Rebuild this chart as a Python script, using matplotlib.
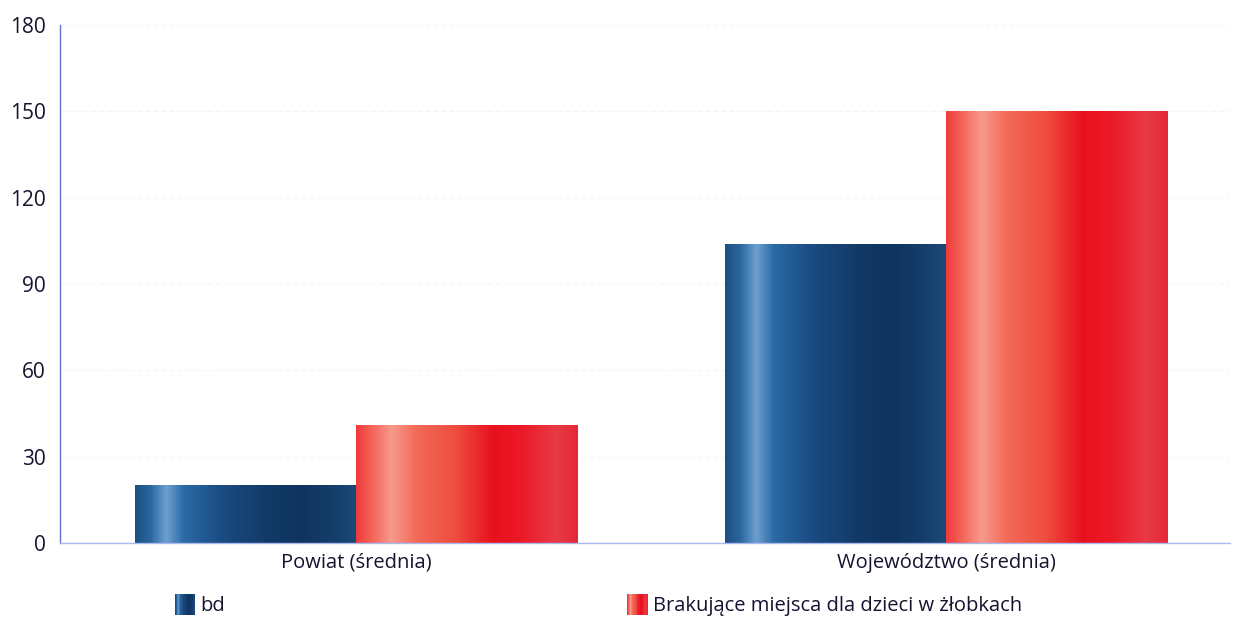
import numpy as np
import matplotlib
matplotlib.use("Agg")
import matplotlib.pyplot as plt
from matplotlib.colors import LinearSegmentedColormap
from matplotlib.legend_handler import HandlerBase
from matplotlib.patches import Rectangle

categories = ["Powiat (średnia)", "Województwo (średnia)"]
series_names = ["bd", "Brakujące miejsca dla dzieci w żłobkach"]
bd_values = [20, 104]
missing_values = [41, 150]
y_ticks = [0, 30, 60, 90, 120, 150, 180]

plt.rcParams["font.family"] = ["Open Sans", "DejaVu Sans"]
text_color = "#141430"

blue_cmap = LinearSegmentedColormap.from_list("blue_tube", [
    (0.0, "#1b4f80"), (0.07, "#2b68a0"), (0.14, "#6e9fd0"), (0.22, "#2a6aa5"),
    (0.4, "#1a4a80"), (0.6, "#123a66"), (0.75, "#0f3360"), (0.9, "#163e6a"),
    (1.0, "#1b4a78")])
red_cmap = LinearSegmentedColormap.from_list("red_tube", [
    (0.0, "#ef3b3b"), (0.08, "#f36a5e"), (0.16, "#f89a8c"), (0.27, "#f26a58"),
    (0.45, "#ee4d40"), (0.62, "#e8101e"), (0.75, "#ec1a28"), (0.9, "#e83a45"),
    (1.0, "#e42838")])
gradient = np.linspace(0, 1, 256).reshape(1, -1)


class GradientHandler(HandlerBase):
    def __init__(self, cmap):
        super().__init__()
        self.cmap = cmap

    def create_artists(self, legend, orig_handle, xdescent, ydescent,
                       width, height, fontsize, trans):
        n = 20
        arts = []
        for i in range(n):
            r = Rectangle((-xdescent + width * i / n, -ydescent), width / n + 0.3, height,
                          facecolor=self.cmap(i / (n - 1)), edgecolor="none",
                          transform=trans)
            arts.append(r)
        return arts


fig = plt.figure(figsize=(12.33, 6.19), dpi=100)
ax = fig.add_axes([0.0487, 0.1228, 0.9489, 0.8368])

x = np.arange(len(categories))
w = 0.375
bars_bd = ax.bar(x - w / 2, bd_values, w, color="none", edgecolor="none", label=series_names[0])
bars_mis = ax.bar(x + w / 2, missing_values, w, color="none", edgecolor="none", label=series_names[1])

for bars, cmap in [(bars_bd, blue_cmap), (bars_mis, red_cmap)]:
    for b in bars:
        x0, y0 = b.get_x(), b.get_y()
        im = ax.imshow(gradient, cmap=cmap, aspect="auto", interpolation="bicubic",
                       extent=[x0, x0 + b.get_width(), y0, y0 + b.get_height()], zorder=2)
        im.set_clip_path(b)

ax.set_xlim(-0.502, 1.481)
ax.set_ylim(0, 180)
ax.set_yticks(y_ticks)
ax.set_xticks(x)
ax.set_xticklabels(categories)
ax.tick_params(axis="y", length=0, pad=10.5, labelsize=15, labelcolor=text_color)
ax.tick_params(axis="x", length=0, pad=7, labelsize=14.5, labelcolor=text_color)
ax.yaxis.grid(True, color="#f4f4f4", linewidth=0.8, linestyle=(0, (4, 3)))
ax.set_axisbelow(True)

for s in ["top", "right"]:
    ax.spines[s].set_visible(False)
ax.spines["left"].set_color("#6b6bd6")
ax.spines["left"].set_linewidth(1.0)
ax.spines["bottom"].set_color("#a9b8ee")
ax.spines["bottom"].set_linewidth(1.0)

h1 = Rectangle((0, 0), 1, 1)
h2 = Rectangle((0, 0), 1, 1)
leg = fig.legend([h1, h2], series_names, ncol=2, frameon=False,
                 handler_map={h1: GradientHandler(blue_cmap), h2: GradientHandler(red_cmap)},
                 loc="center left", bbox_to_anchor=(0.127, 0.022),
                 handlelength=1.0, handleheight=1.2, handletextpad=0.25,
                 columnspacing=20.0, fontsize=14.5)
for t in leg.get_texts():
    t.set_color(text_color)

fig.savefig("out.png", dpi=100)
